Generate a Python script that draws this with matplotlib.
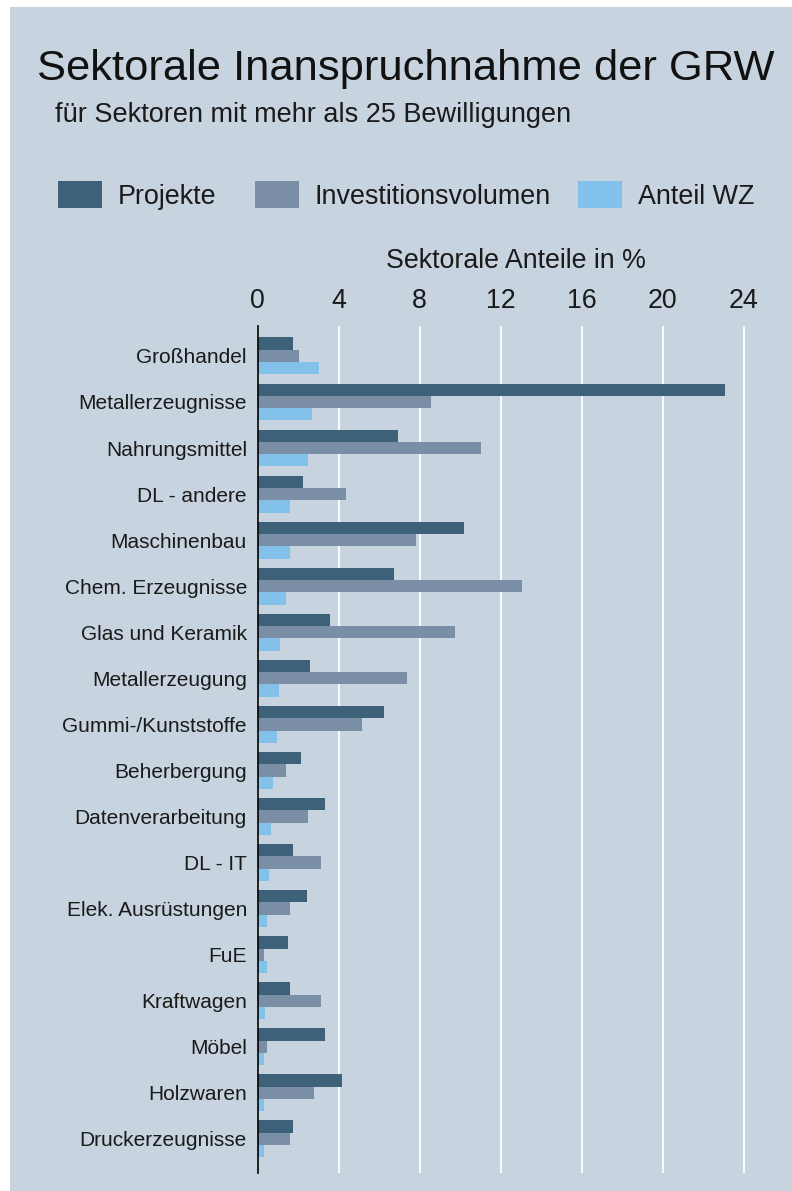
import matplotlib
matplotlib.use("Agg")
import matplotlib.pyplot as plt
import numpy as np
from matplotlib.patches import Rectangle

plt.rcParams['font.family'] = ['Liberation Sans', 'DejaVu Sans']

categories = ["Großhandel", "Metallerzeugnisse", "Nahrungsmittel", "DL - andere",
              "Maschinenbau", "Chem. Erzeugnisse", "Glas und Keramik", "Metallerzeugung",
              "Gummi-/Kunststoffe", "Beherbergung", "Datenverarbeitung", "DL - IT",
              "Elek. Ausrüstungen", "FuE", "Kraftwagen", "Möbel", "Holzwaren",
              "Druckerzeugnisse"]
projekte = [1.77, 23.05, 6.92, 2.23, 10.20, 6.72, 3.59, 2.59, 6.26, 2.13, 3.35, 1.77,
            2.43, 1.50, 1.60, 3.35, 4.17, 1.77]
investition = [2.06, 8.56, 11.03, 4.35, 7.82, 13.05, 9.74, 7.38, 5.17, 1.41, 2.51, 3.15,
               1.60, 0.31, 3.15, 0.48, 2.79, 1.60]
anteil_wz = [3.05, 2.69, 2.51, 1.60, 1.60, 1.41, 1.13, 1.04, 0.95, 0.77, 0.68, 0.58,
             0.48, 0.48, 0.39, 0.31, 0.31, 0.31]
series_names = ["Projekte", "Investitionsvolumen", "Anteil WZ"]
xticks = [0, 4, 8, 12, 16, 20, 24]

colors = ["#3d6179", "#7a8fa6", "#82c1ea"]
bg = "#c7d3df"

W, H = 792, 1191
fig = plt.figure(figsize=(W / 100, H / 100), dpi=100, facecolor="white")
fig.patches.append(Rectangle((10 / W, 0), 1 - 10 / W, 1 - 7 / H, transform=fig.transFigure,
                             facecolor=bg, edgecolor="none", zorder=-10))

ax_left, ax_right = 257.5, 775
ax_top, ax_bottom = 326, 1173
ax = fig.add_axes([ax_left / W, 1 - ax_bottom / H, (ax_right - ax_left) / W, (ax_bottom - ax_top) / H])
ax.set_facecolor("none")

y = np.arange(len(categories))
h = 0.267
bars = []
for i, (vals, c) in enumerate(zip([projekte, investition, anteil_wz], colors)):
    b = ax.barh(y + (i - 1) * h, vals, height=h, color=c, label=series_names[i], zorder=2)
    bars.append(b)

ax.set_ylim(17.74, -0.65)
ax.set_xlim(0, 25.53)
ax.set_yticks(y)
ax.set_yticklabels(categories, fontsize=15, color="#1a1a1a")
ax.set_xticks(xticks)
ax.set_xticklabels([str(t) for t in xticks], fontsize=19.3, color="#1a1a1a")
ax.tick_params(axis="x", top=True, labeltop=True, bottom=False, labelbottom=False, length=0, pad=9)
ax.tick_params(axis="y", length=0, pad=7.6)
for s in ["top", "right", "bottom"]:
    ax.spines[s].set_visible(False)
ax.spines["left"].set_color("black")
ax.spines["left"].set_linewidth(1.2)
ax.spines["left"].set_zorder(3)
ax.grid(axis="x", color="white", linewidth=1.3, zorder=1)
ax.grid(axis="y", visible=False)
ax.set_axisbelow(True)

fig.text(516 / W, 1 - 268 / H, "Sektorale Anteile in %", fontsize=19.3, ha="center",
         va="baseline", color="#1a1a1a")

fig.text(37 / W, 1 - 80 / H, "Sektorale Inanspruchnahme der GRW", fontsize=31.3,
         ha="left", va="baseline", color="#111111")
fig.text(55 / W, 1 - 122 / H, "für Sektoren mit mehr als 25 Bewilligungen", fontsize=19.5,
         ha="left", va="baseline", color="#1a1a1a")

handle_x = [58, 255, 578]
for b, name, hx in zip(bars, series_names, handle_x):
    fig.legend(handles=[b], labels=[name], loc="center left",
               bbox_to_anchor=(hx / W, 1 - 195.5 / H), frameon=False, borderpad=0,
               borderaxespad=0, handlelength=1.63, handleheight=1.15, handletextpad=0.59,
               fontsize=19.4, labelcolor="#1a1a1a")

fig.savefig("out.png", dpi=100, facecolor="white")
